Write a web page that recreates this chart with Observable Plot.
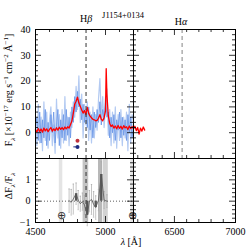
<!DOCTYPE html>
<html><head><meta charset="utf-8">
<script src="https://cdn.jsdelivr.net/npm/d3@7"></script>
<script src="https://cdn.jsdelivr.net/npm/@observablehq/plot@0.6"></script>
<style>
body{margin:0;background:#fff;}
#c{position:relative;width:249px;height:249px;font-family:'Liberation Serif',serif;color:#000;overflow:hidden;}
#c svg{position:absolute;left:0;top:0;}
#c svg text{font-family:'Liberation Serif',serif;}
.lbl{position:absolute;white-space:nowrap;font-size:10px;line-height:1;transform:translate(-50%,-50%);}
.rot{transform:translate(-50%,-50%) rotate(-90deg);}
sub,sup{font-size:7px;line-height:0;}
</style></head><body><div id="c"></div>
<script>
// ---- data ----
const lambdaObs = [4500,4510,4520,4530,4540,4550,4560,4570,4580,4590,4600,4610,4620,4630,4640,4650,4660,4670,4680,4690,4700,4710,4720,4730,4740,4750,4760,4770,4780,4790,4800,4810,4820,4830,4840,4850,4860,4870,4880,4890,4900,4910,4920,4930,4940,4950,4960,4970,4980,4990,5000,5010,5020,5030,5040,5050,5060,5070,5080,5090,5100,5110,5120,5130,5140,5150,5160,5170,5180,5190,5200];
const fluxRaw = [3,-5,11,-4,6,-7,12,-3,8,-6, 5,10,-5,3,-8,13,-2,7,-6,9, -4,14,-3,6,-5,8,2,12,6,18, 9,22,4,15,-2,11,3,12,-3,8, -4,10,-2,7,1,13,21,6,14,2, 10,17,-1,9,-5,8,-4,10,-6,7, -3,9,-5,6,-2,8,-7,11,-4,7, 5];
const fluxBin = [1,6,-3,8,-4,5,-2,9,-5,4, -3,7,0,8,-4,3,9,-5,5,-2, 7,-3,9,-1,6,-2,10,4,14,8, 16,10,13,5,11,4,9,2,10,1, 7,-2,8,2,9,4,12,3,9,5, 14,6,8,-2,6,0,7,-3,5,1, 8,-2,6,-1,5,-3,7,0,6,-2, 4];
const lambdaFit = [4500,4510,4520,4530,4540,4550,4560,4570,4580,4590,4600,4610,4620,4630,4640,4650,4660,4670,4680,4690,4700,4710,4720,4730,4740,4750,4760,4770,4780,4790,4800,4810,4820,4830,4840,4850,4860,4870,4880,4890,4900,4910,4920,4930,4940,4950,4960,4970,4980,4990,5000,5005,5010,5020,5030,5040,5050,5060,5070,5080,5090,5100,5110,5120,5130,5140,5150,5160,5170,5180,5190,5200,5210,5220,5230,5240,5250,5260,5270,5280];
const fluxFit = [1.2,0.3,1.6,0.5,1.4,0.2,1.8,0.7,1.5,0.4, 1.3,2.0,0.6,1.5,0.8,1.9,1.0,2.1,1.3,2.0, 1.2,2.2,1.5,2.3,1.8,3.2,4.5,7.5,11.0,12.2, 13.8,11.5,10.2,8.8,7.6,8.6,7.0,9.8,7.5,6.4, 5.8,5.2,5.0,4.6,4.8,5.6,7.0,5.2,4.6,5.8, 8.5,24.8,15.0,6.5,3.6,2.4,3.0,1.8,2.6,1.5,2.8, 1.7,2.5,1.4,2.7,1.9,2.3,1.2,2.6,1.6,2.4, 1.5,2.5,0.8,2.0,-0.5,1.8,0.6,2.2,1.0];
const markLambda = [4800];
const markRed = [-3.1];
const markBlue = [-5.5];
const markBlueFrom = [4770];

const resLambda = [4740,4755,4770,4790,4805,4820,4835,4850,4870,4885,4900,4915,4930,4950,4970,4990,5010];
const resValue  = [0.02,-0.05,0.1,0.35,0.05,-0.12,-0.02,-0.18,-0.65,0.0,0.08,-0.15,-0.3,0.05,1.25,0.05,0.0];
const resError  = [0.55,0.6,0.7,0.5,0.45,0.35,0.4,0.45,0.5,0.5,0.7,0.6,0.55,0.5,0.6,0.4,0.3];
const barLambda = [4790,4870,4930,4970];
const barValue  = [0.35,-0.65,-0.3,1.25];
const maskLambda1 = [4840,4950,4985];
const maskLambda2 = [4880,4980,5020];
const maskFill = ["#c4c4c4","#b8b8b8","#d2d2d2"];
const telLambda1 = [4670,5180];
const telLambda2 = [4695,5200];
const telMarkLambda = [4685,5192];
const telMarkY = [-0.65,-0.65];
const lineLambda = {Hb: 4861, Ha: 6563};

const xTickLabelsL = [4500,5000];
const xTickLabelsR = [6500,7000];
const xMinorL = [4600,4700,4800,4900,5100,5200];
const xMinorR = [6200,6300,6400,6600,6700,6800,6900];
const yTickLabelsTop = [0,10,20,30,40];
const yTickLabelsBot = [-1,0,1];

// ---- layout ----
const W = 249, H = 249;
const xL = 35, xB = 133, xR = 235, yT = 29, yM = 158, yBt = 222;
const domL = [4500,5200], domR = [6165,7000], domTop = [-10,40], domBot = [-1,2];
const style = {fontFamily:"'Liberation Serif', serif", fontSize:"10px", background:"transparent", overflow:"visible"};

const obs = lambdaObs.map((l,i)=>({l, raw: fluxRaw[i], bin: fluxBin[i]}));
const fit = lambdaFit.map((l,i)=>({l, f: fluxFit[i]}));
const res = resLambda.map((l,i)=>({l, v: resValue[i], e: resError[i]}));
const bars = barLambda.map((l,i)=>({l, v: barValue[i]}));
const masks = maskLambda1.map((a,i)=>({a, b: maskLambda2[i], c: maskFill[i]}));
const tels = telLambda1.map((a,i)=>({a, b: telLambda2[i]}));

const yMinorTop = d3.range(-10, 40.01, 2).filter(v => v % 10 !== 0);
const yMajorTop = [-10,0,10,20,30,40];
const yMinorBot = d3.range(-1, 2.001, 0.2).map(v=>+v.toFixed(1)).filter(v => Math.abs(v - Math.round(v)) > 1e-6);
const yMajorBot = [-1,0,1,2];

function xTicks(vals, len, side, fh){
  return Plot.ruleX(vals, {x: d=>d, stroke:"black", strokeWidth:0.8,
    insetTop: side==="bottom" ? fh-len : 0, insetBottom: side==="top" ? fh-len : 0});
}
function yTicks(vals, len, side, fw){
  return Plot.ruleY(vals, {y: d=>d, stroke:"black", strokeWidth:0.8,
    insetLeft: side==="right" ? fw-len : 0, insetRight: side==="left" ? fw-len : 0});
}

const hTop = yM - yT, hBot = yBt - yM, wL = xB - xL, wR = xR - xB;

function panel(opts){
  return Plot.plot(Object.assign({width: W, height: H, style}, opts));
}

// top-left
const pTL = panel({
  marginLeft: xL, marginRight: W - xB, marginTop: yT, marginBottom: H - yM,
  x: {domain: domL, axis: null},
  y: {domain: domTop, ticks: yTickLabelsTop, tickSize: 0, tickPadding: 5, label: null, tickFormat: d3.format("d")},
  marks: [
    Plot.line(obs, {x:"l", y:"raw", stroke:"#b3caf2", strokeWidth:1.2}),
    Plot.line(obs, {x:"l", y:"bin", stroke:"#6d98e8", strokeWidth:0.9}),
    Plot.line(fit, {x:"l", y:"f", stroke:"#ff0000", strokeWidth:1.3}),
    Plot.ruleX([lineLambda.Hb], {stroke:"#333", strokeDasharray:"4,3", strokeWidth:1}),
    Plot.link(markLambda, {x1: (d,i)=>markBlueFrom[i], x2: d=>d, y1: (d,i)=>markBlue[i], y2: (d,i)=>markBlue[i], stroke:"#1c2a80", strokeWidth:1}),
    Plot.dot(markLambda, {x: d=>d, y: (d,i)=>markRed[i], r:2, fill:"#c0303a", stroke:"none"}),
    Plot.dot(markLambda, {x: d=>d, y: (d,i)=>markBlue[i], r:2, fill:"#1c2a80", stroke:"none"}),
    Plot.frame({stroke:"black", strokeWidth:1}),
    xTicks(xMinorL, 3, "bottom", hTop), xTicks([5000], 6, "bottom", hTop),
    xTicks(xMinorL, 3, "top", hTop), xTicks([5000], 6, "top", hTop),
    yTicks(yMinorTop, 3, "left", wL), yTicks(yMajorTop, 6, "left", wL),
    yTicks(yMinorTop, 3, "right", wL), yTicks(yMajorTop, 6, "right", wL)
  ]
});

// top-right
const pTR = panel({
  marginLeft: xB, marginRight: W - xR, marginTop: yT, marginBottom: H - yM,
  x: {domain: domR, axis: null},
  y: {domain: domTop, axis: null},
  marks: [
    Plot.ruleX([lineLambda.Ha], {stroke:"#999", strokeDasharray:"4,3", strokeWidth:1.2}),
    Plot.frame({stroke:"black", strokeWidth:1}),
    xTicks(xMinorR, 3, "bottom", hTop), xTicks([6500], 6, "bottom", hTop),
    xTicks(xMinorR, 3, "top", hTop), xTicks([6500], 6, "top", hTop),
    yTicks(yMinorTop, 3, "left", wR), yTicks(yMajorTop, 6, "left", wR),
    yTicks(yMinorTop, 3, "right", wR), yTicks(yMajorTop, 6, "right", wR)
  ]
});

// bottom-left
const pBL = panel({
  marginLeft: xL, marginRight: W - xB, marginTop: yM, marginBottom: H - yBt,
  x: {domain: domL, ticks: xTickLabelsL, tickSize: 0, tickPadding: 5, label: null, tickFormat: d3.format("d")},
  y: {domain: domBot, ticks: yTickLabelsBot, tickSize: 0, tickPadding: 5, label: null, tickFormat: d3.format("d")},
  marks: [
    Plot.rect(tels, {x1:"a", x2:"b", fill:"#e4e4e4"}),
    Plot.rect(masks, {x1:"a", x2:"b", fill:"c"}),
    Plot.ruleY([0], {stroke:"#333", strokeDasharray:"1,2", strokeWidth:0.8}),
    Plot.ruleX([lineLambda.Hb], {stroke:"#333", strokeDasharray:"4,3", strokeWidth:1}),
    Plot.ruleX(res, {x:"l", y1: d=>d.v-d.e, y2: d=>d.v+d.e, stroke:"#aaa", strokeWidth:0.7}),
    Plot.link(res, {x1: d=>d.l-5, x2: d=>d.l+5, y1: d=>d.v+d.e, y2: d=>d.v+d.e, stroke:"#aaa", strokeWidth:0.7}),
    Plot.link(res, {x1: d=>d.l-5, x2: d=>d.l+5, y1: d=>d.v-d.e, y2: d=>d.v-d.e, stroke:"#aaa", strokeWidth:0.7}),
    Plot.line(res, {x:"l", y:"v", stroke:"#555", strokeWidth:0.8}),
    Plot.ruleX(bars, {x:"l", y1: 0, y2:"v", stroke:"#555", strokeWidth:2.4}),
    Plot.text(telMarkLambda, {x: d=>d, y: (d,i)=>telMarkY[i], text: ()=>"⊕", fontSize:11, fill:"#333", fontFamily:"DejaVu Sans"}),
    Plot.frame({stroke:"black", strokeWidth:1}),
    xTicks(xMinorL, 3, "bottom", hBot), xTicks([5000], 6, "bottom", hBot),
    yTicks(yMinorBot, 3, "left", wL), yTicks(yMajorBot, 6, "left", wL),
    yTicks(yMinorBot, 3, "right", wL), yTicks(yMajorBot, 6, "right", wL)
  ]
});

// bottom-right
const pBR = panel({
  marginLeft: xB, marginRight: W - xR, marginTop: yM, marginBottom: H - yBt,
  x: {domain: domR, ticks: xTickLabelsR, tickSize: 0, tickPadding: 5, label: null, tickFormat: d3.format("d")},
  y: {domain: domBot, axis: null},
  marks: [
    Plot.frame({stroke:"black", strokeWidth:1}),
    xTicks(xMinorR, 3, "bottom", hBot), xTicks([6500], 6, "bottom", hBot),
    yTicks(yMinorBot, 3, "left", wR), yTicks(yMajorBot, 6, "left", wR),
    yTicks(yMinorBot, 3, "right", wR), yTicks(yMajorBot, 6, "right", wR)
  ]
});

const c = document.getElementById("c");
[pTL, pTR, pBL, pBR].forEach(p => c.appendChild(p));

function label(html, x, y, cls, size){
  const d = document.createElement("div");
  d.className = "lbl" + (cls ? " " + cls : "");
  d.style.left = x + "px"; d.style.top = y + "px";
  if (size) d.style.fontSize = size + "px";
  d.innerHTML = html;
  c.appendChild(d);
}
label("J1154+0134", 123, 15, "", 8.5);
label("H<i>β</i>", 86, 19, "", 10);
label("H<i>α</i>", 181, 22, "", 10);
label("F<sub><i>λ</i></sub> [×10<sup>−17</sup> erg s<sup>−1</sup> cm<sup>−2</sup> Å<sup>−1</sup>]", 9, 90, "rot", 10);
label("ΔF<sub><i>λ</i></sub>/F<sub><i>λ</i></sub>", 9, 186, "rot", 10);
label("<i>λ</i> [Å]", 131, 242, "", 10);
</script></body></html>
